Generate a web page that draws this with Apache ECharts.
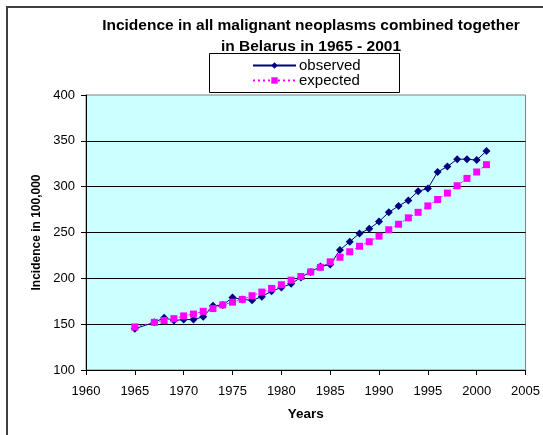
<!DOCTYPE html>
<html>
<head>
<meta charset="utf-8">
<script src="https://cdn.jsdelivr.net/npm/echarts@6/dist/echarts.min.js"></script>
<style>
  html, body { margin: 0; padding: 0; background: #fff; }
  #main { width: 543px; height: 435px; }
</style>
</head>
<body>
<div id="main"></div>
<script>
// years (1966 is not in the data)
var years = [1965, 1967, 1968, 1969, 1970, 1971, 1972, 1973, 1974, 1975, 1976, 1977,
    1978, 1979, 1980, 1981, 1982, 1983, 1984, 1985, 1986, 1987, 1988, 1989, 1990,
    1991, 1992, 1993, 1994, 1995, 1996, 1997, 1998, 1999, 2000, 2001];

var observed = [145, 152, 157, 154, 155, 155, 158, 170, 171, 179, 177, 176,
    180, 186, 190, 194, 201, 207, 213, 215, 231, 240, 249, 254, 262,
    272, 279, 285, 295, 298, 316, 322, 330, 330, 329, 339];

var expected = [147, 152, 154, 156, 159, 161, 164, 167, 171, 174, 177, 181,
    185, 189, 193, 198, 202, 207, 212, 218, 223, 229, 235, 240, 246,
    253, 259, 266, 272, 279, 286, 293, 301, 309, 316, 324];

var seriesNames = ['observed', 'expected'];
var titleText = 'Incidence in all malignant neoplasms combined together\nin Belarus in 1965 - 2001';

function pairs(vals) {
    return years.map(function (y, i) { return [y, vals[i]]; });
}

var font = 'Liberation Sans, Arial, sans-serif';
var myChart = echarts.init(document.getElementById('main'));

var option = {
    backgroundColor: '#fff',
    animation: false,
    textStyle: { fontFamily: font, color: '#000' },
    title: {
        text: titleText,
        left: 306,
        top: 10,
        textAlign: 'center',
        textStyle: { fontFamily: font, fontSize: 15.5, fontWeight: 'bold', color: '#000', lineHeight: 21 }
    },
    graphic: [
        {
            type: 'rect', z: -1,
            shape: { x: 7, y: 7, width: 600, height: 500 },
            style: { fill: 'none', stroke: '#404040', lineWidth: 2 }
        },
        {
            type: 'rect', z: 0,
            shape: { x: 209.5, y: 53.5, width: 190, height: 39 },
            style: { fill: '#fff', stroke: '#000', lineWidth: 1 }
        }
    ],
    legend: {
        data: seriesNames,
        orient: 'vertical',
        left: 252,
        top: 58,
        padding: 0,
        itemGap: 0,
        itemWidth: 43,
        itemHeight: 8,
        z: 10,
        textStyle: { fontFamily: font, fontSize: 15, color: '#000', lineHeight: 15, padding: [0, 0, 0, -2] }
    },
    grid: {
        left: 86,
        right: 15,
        top: 95,
        bottom: 65,
        show: true,
        backgroundColor: '#CCFFFF',
        borderColor: '#808080',
        borderWidth: 1
    },
    xAxis: {
        type: 'value',
        min: 1960,
        max: 2005,
        interval: 5,
        name: 'Years',
        nameLocation: 'middle',
        nameGap: 37,
        nameTextStyle: { fontFamily: font, fontSize: 13.5, fontWeight: 'bold', color: '#000' },
        axisLine: { lineStyle: { color: '#000', width: 1 } },
        axisTick: { show: true, inside: false, length: 5, lineStyle: { color: '#000' } },
        axisLabel: { fontFamily: font, fontSize: 13, color: '#000', margin: 15, formatter: function (v) { return String(v); } },
        splitLine: { show: false }
    },
    yAxis: {
        type: 'value',
        min: 100,
        max: 400,
        interval: 50,
        name: 'Incidence in 100,000',
        nameLocation: 'middle',
        nameGap: 42,
        nameTextStyle: { fontFamily: font, fontSize: 12, fontWeight: 'bold', color: '#000' },
        axisLine: { show: true, lineStyle: { color: '#000', width: 1 } },
        axisTick: { show: true, inside: false, length: 5, lineStyle: { color: '#000' } },
        axisLabel: { fontFamily: font, fontSize: 13, color: '#000', margin: 11 },
        splitLine: { show: true, showMaxLine: false, lineStyle: { color: '#000', width: 1 } }
    },
    series: [
        {
            name: seriesNames[0],
            type: 'line',
            data: pairs(observed),
            symbol: 'diamond',
            symbolSize: 8,
            z: 3,
            itemStyle: { color: '#000080' },
            lineStyle: { color: '#000080', width: 1 }
        },
        {
            name: seriesNames[1],
            type: 'line',
            data: pairs(expected),
            symbol: 'rect',
            symbolSize: 7,
            z: 4,
            itemStyle: { color: '#FF00FF' },
            lineStyle: { color: '#FF00FF', width: 1, type: [2, 3] }
        }
    ]
};

myChart.setOption(option);
</script>
</body>
</html>
